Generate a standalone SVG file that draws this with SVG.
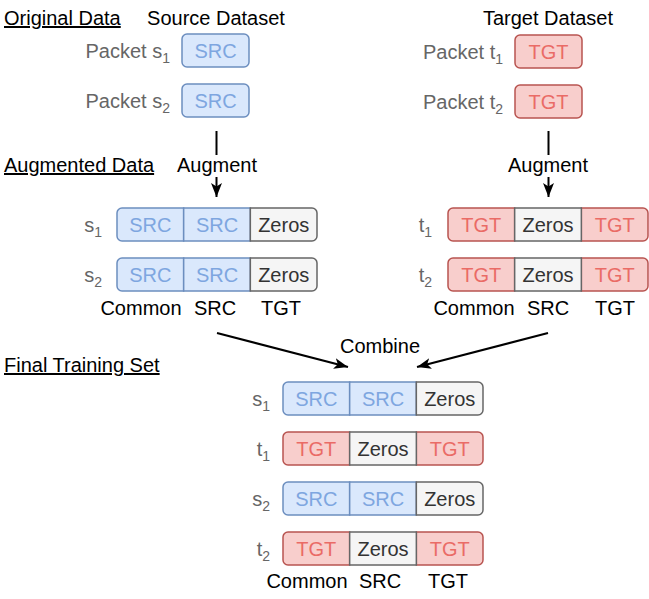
<svg xmlns="http://www.w3.org/2000/svg" xmlns:xlink="http://www.w3.org/1999/xlink" width="649" height="599" viewBox="0 0 649 599">
<defs>
<style>
text { font-family: "Liberation Sans", Arial, Helvetica, sans-serif; font-size: 20px; }
.hdr { fill:#000; }
.ul { text-decoration: underline; }
.mid { text-anchor: middle; }
.lbl { fill:#666; text-anchor:end; }
.col { fill:#000; text-anchor:middle; }
.sub { font-size:14px; }
.b { fill:#dae8fc; stroke:#6c8ebf; stroke-width:1.5; }
.r { fill:#f8cecc; stroke:#b85450; stroke-width:1.5; }
.z { fill:#f5f5f5; stroke:#666666; stroke-width:1.5; }
.tb { fill:#7ea6e0; text-anchor:middle; }
.tr { fill:#ea6b66; text-anchor:middle; }
.tz { fill:#333333; text-anchor:middle; }
.edge { fill:none; stroke:#000; stroke-width:2; marker-end:url(#arr); }
.bg { fill:#fff; }
</style>
<marker id="arr" markerUnits="userSpaceOnUse" markerWidth="14" markerHeight="11" refX="14" refY="5.5" orient="auto" viewBox="0 0 14 11">
<path d="M0,0 L14,5.5 L0,11 L3.5,5.5 Z" fill="#000"/>
</marker>
<path id="cl" d="M5,0H66.67V33H5A5,5 0 0 1 0,28V5A5,5 0 0 1 5,0Z"/>
<rect id="cm" width="66.67" height="33"/>
<path id="cr" d="M0,0H61.67A5,5 0 0 1 66.67,5V28A5,5 0 0 1 61.67,33H0Z"/>
</defs>

<g id="headers">
<text class="hdr ul" x="4" y="25">Original Data</text>
<text class="hdr mid" x="216" y="25">Source Dataset</text>
<text class="hdr mid" x="548" y="25">Target Dataset</text>
<text class="hdr ul" x="4" y="172">Augmented Data</text>
<text class="hdr ul" x="4" y="372">Final Training Set</text>
</g>

<g id="packet-s1">
<text class="lbl" x="170" y="58">Packet s<tspan class="sub" dy="5">1</tspan></text>
<rect class="b" x="182" y="34" width="67" height="33" rx="5"/>
<text class="tb" x="215.5" y="58">SRC</text>
</g>
<g id="packet-s2">
<text class="lbl" x="170" y="108">Packet s<tspan class="sub" dy="5">2</tspan></text>
<rect class="b" x="182" y="84" width="67" height="33" rx="5"/>
<text class="tb" x="215.5" y="108">SRC</text>
</g>
<g id="packet-t1">
<text class="lbl" x="503" y="59">Packet t<tspan class="sub" dy="5">1</tspan></text>
<rect class="r" x="515" y="35" width="67" height="33" rx="5"/>
<text class="tr" x="548.5" y="59">TGT</text>
</g>
<g id="packet-t2">
<text class="lbl" x="503" y="109">Packet t<tspan class="sub" dy="5">2</tspan></text>
<rect class="r" x="515" y="85" width="67" height="33" rx="5"/>
<text class="tr" x="548.5" y="109">TGT</text>
</g>

<g id="aug-s1">
<text class="lbl" x="102" y="232">s<tspan class="sub" dy="5">1</tspan></text>
<use xlink:href="#cl" x="117" y="208" class="b"/>
<use xlink:href="#cm" x="183.67" y="208" class="b"/>
<use xlink:href="#cr" x="250.33" y="208" class="z"/>
<text class="tb" x="150.3" y="232">SRC</text>
<text class="tb" x="217" y="232">SRC</text>
<text class="tz" x="283.7" y="232">Zeros</text>
</g>
<g id="aug-s2">
<text class="lbl" x="102" y="282">s<tspan class="sub" dy="5">2</tspan></text>
<use xlink:href="#cl" x="117" y="258" class="b"/>
<use xlink:href="#cm" x="183.67" y="258" class="b"/>
<use xlink:href="#cr" x="250.33" y="258" class="z"/>
<text class="tb" x="150.3" y="282">SRC</text>
<text class="tb" x="217" y="282">SRC</text>
<text class="tz" x="283.7" y="282">Zeros</text>
</g>
<g id="aug-left-cols">
<text class="col" x="141" y="315">Common</text>
<text class="col" x="215" y="315">SRC</text>
<text class="col" x="281" y="315">TGT</text>
</g>

<g id="aug-t1">
<text class="lbl" x="432" y="232">t<tspan class="sub" dy="5">1</tspan></text>
<use xlink:href="#cl" x="448" y="208" class="r"/>
<use xlink:href="#cr" x="581.33" y="208" class="r"/>
<use xlink:href="#cm" x="514.67" y="208" class="z"/>
<text class="tr" x="481.3" y="232">TGT</text>
<text class="tz" x="548" y="232">Zeros</text>
<text class="tr" x="614.7" y="232">TGT</text>
</g>
<g id="aug-t2">
<text class="lbl" x="432" y="282">t<tspan class="sub" dy="5">2</tspan></text>
<use xlink:href="#cl" x="448" y="258" class="r"/>
<use xlink:href="#cr" x="581.33" y="258" class="r"/>
<use xlink:href="#cm" x="514.67" y="258" class="z"/>
<text class="tr" x="481.3" y="282">TGT</text>
<text class="tz" x="548" y="282">Zeros</text>
<text class="tr" x="614.7" y="282">TGT</text>
</g>
<g id="aug-right-cols">
<text class="col" x="474" y="315">Common</text>
<text class="col" x="548" y="315">SRC</text>
<text class="col" x="615" y="315">TGT</text>
</g>

<g id="final-s1">
<text class="lbl" x="270" y="406">s<tspan class="sub" dy="5">1</tspan></text>
<use xlink:href="#cl" x="283" y="382" class="b"/>
<use xlink:href="#cm" x="349.67" y="382" class="b"/>
<use xlink:href="#cr" x="416.33" y="382" class="z"/>
<text class="tb" x="316.3" y="406">SRC</text>
<text class="tb" x="383" y="406">SRC</text>
<text class="tz" x="449.7" y="406">Zeros</text>
</g>
<g id="final-t1">
<text class="lbl" x="270" y="456">t<tspan class="sub" dy="5">1</tspan></text>
<use xlink:href="#cl" x="283" y="432" class="r"/>
<use xlink:href="#cr" x="416.33" y="432" class="r"/>
<use xlink:href="#cm" x="349.67" y="432" class="z"/>
<text class="tr" x="316.3" y="456">TGT</text>
<text class="tz" x="383" y="456">Zeros</text>
<text class="tr" x="449.7" y="456">TGT</text>
</g>
<g id="final-s2">
<text class="lbl" x="270" y="506">s<tspan class="sub" dy="5">2</tspan></text>
<use xlink:href="#cl" x="283" y="482" class="b"/>
<use xlink:href="#cm" x="349.67" y="482" class="b"/>
<use xlink:href="#cr" x="416.33" y="482" class="z"/>
<text class="tb" x="316.3" y="506">SRC</text>
<text class="tb" x="383" y="506">SRC</text>
<text class="tz" x="449.7" y="506">Zeros</text>
</g>
<g id="final-t2">
<text class="lbl" x="270" y="556">t<tspan class="sub" dy="5">2</tspan></text>
<use xlink:href="#cl" x="283" y="532" class="r"/>
<use xlink:href="#cr" x="416.33" y="532" class="r"/>
<use xlink:href="#cm" x="349.67" y="532" class="z"/>
<text class="tr" x="316.3" y="556">TGT</text>
<text class="tz" x="383" y="556">Zeros</text>
<text class="tr" x="449.7" y="556">TGT</text>
</g>
<g id="final-cols">
<text class="col" x="307" y="588">Common</text>
<text class="col" x="380" y="588">SRC</text>
<text class="col" x="448" y="588">TGT</text>
</g>

<g id="connectors">
<path class="edge" d="M216.5,131 V197"/>
<rect class="bg" x="177" y="155" width="80" height="22"/>
<text class="hdr mid" x="217" y="172">Augment</text>
<path class="edge" d="M548.5,131 V197"/>
<rect class="bg" x="508" y="155" width="80" height="22"/>
<text class="hdr mid" x="548" y="172">Augment</text>
<path class="edge" d="M217,333 L348,367"/>
<path class="edge" d="M548,333 L417,367"/>
<text class="hdr mid" x="380" y="353">Combine</text>
</g>
</svg>
